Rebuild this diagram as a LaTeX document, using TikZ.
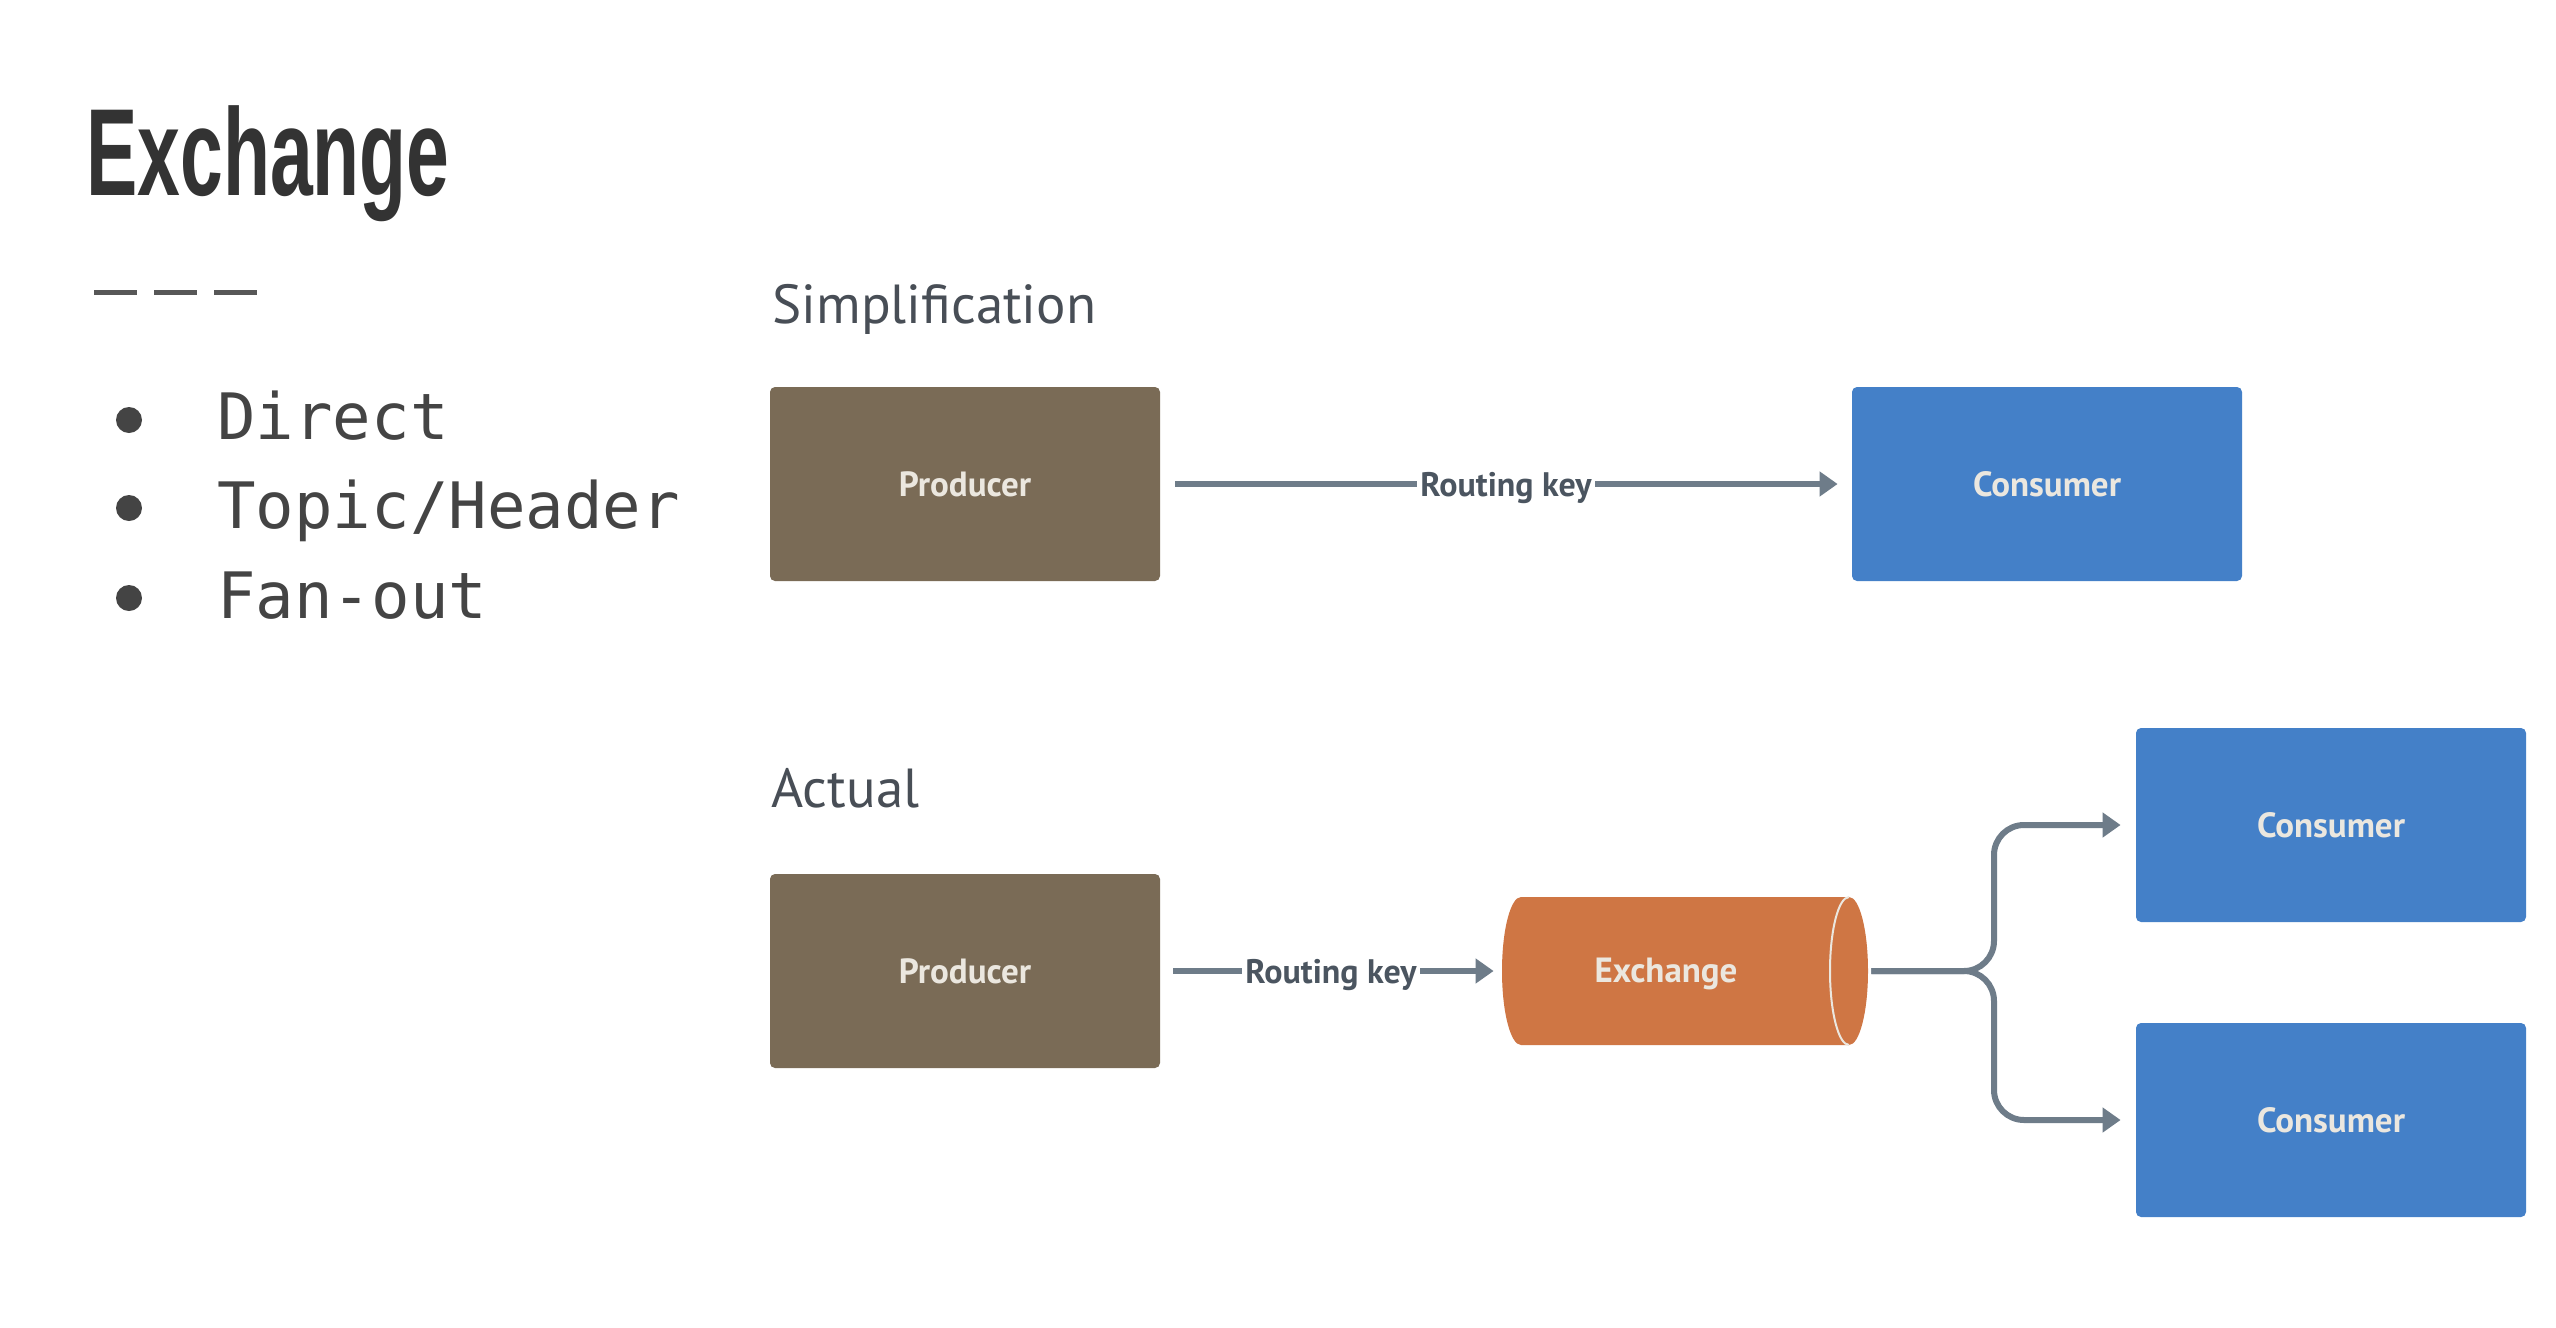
\documentclass[tikz,border=0pt]{standalone}
\usepackage{graphicx}
\usepackage{fontspec}
\setmainfont{PT Sans}
\newfontfamily\titlefont{Liberation Sans}
\newfontfamily\codefont{DejaVu Sans Mono}
\usetikzlibrary{arrows.meta}
\definecolor{producerc}{RGB}{122,107,86}
\definecolor{consumerc}{RGB}{68,128,200}
\definecolor{exchangec}{RGB}{207,118,68}
\definecolor{linec}{RGB}{110,124,137}
\definecolor{labelc}{RGB}{235,231,223}
\definecolor{keyc}{RGB}{75,85,96}
\definecolor{headc}{RGB}{72,78,86}
\definecolor{titlec}{RGB}{51,51,51}
\definecolor{bulletc}{RGB}{68,68,68}
\tikzset{
  box/.style={rectangle, rounded corners=2.5pt, minimum width=195pt, minimum height=97pt,
    inner sep=0pt, text=labelc, font=\bfseries\fontsize{17.5}{20}\selectfont},
  prodbox/.style={box, fill=producerc},
  consbox/.style={box, fill=consumerc},
  flow/.style={draw=linec, line width=3pt, -{Triangle[length=9pt,width=12pt]}},
  keylabel/.style={fill=white, inner sep=1.5pt, yshift=-2pt, text=keyc, font=\bfseries\fontsize{17}{19}\selectfont},
  heading/.style={anchor=base west, inner sep=0pt, text=headc, font=\fontsize{27.5}{30}\selectfont},
  item/.style={anchor=base west, inner sep=0pt, text=bulletc, font=\codefont\fontsize{32}{36}\selectfont},
}
\begin{document}
\begin{tikzpicture}[x=0.5pt,y=-0.5pt]
\useasboundingbox[fill=white] (0,0) rectangle (2556,1328);

% title
\node[anchor=base west, inner sep=0pt, text=titlec, font=\titlefont\bfseries\fontsize{62}{70}\selectfont] (title) at (86,195) {\scalebox{0.62}[1]{Exchange}};
% separator dashes
\foreach \xa/\xb [count=\i] in {94/137,154/197,214/257}{
  \coordinate (d\i a) at (\xa,292);
  \coordinate (d\i b) at (\xb,292);
  \draw[line width=2.5pt, draw=bulletc!90] (d\i a) -- (d\i b);
}
% bullets
\foreach \yb/\yt/\txt [count=\i] in {420/439/Direct,508/528/Topic\slash Header,598/618/Fan-out}{
  \fill[bulletc] (129,\yb) circle (6.5pt);
  \node[item] (item\i) at (217,\yt) {\txt};
}

% headings
\node[heading] (h1) at (772,323) {Simplification};
\node[heading] (h2) at (771,807) {Actual};

% simplification row
\node[prodbox] (p1) at (965,484) {\raisebox{-1pt}{Producer}};
\node[consbox] (c1) at (2047,484) {\raisebox{-1pt}{Consumer}};
\draw[flow, shorten <=7.5pt, shorten >=7pt] (p1.east) -- node[keylabel] {Routing key} (c1.west);

% actual row
\node[prodbox] (p2) at (965,971) {\raisebox{-1pt}{Producer}};
\node[consbox] (c2) at (2331,825) {\raisebox{-1pt}{Consumer}};
\node[consbox] (c3) at (2331,1120) {\raisebox{-1pt}{Consumer}};

% exchange cylinder
\node[rectangle, minimum width=184.5pt, minimum height=74pt, inner sep=0pt] (ex) at (1686.5,971) {};
\fill[exchangec] (1521,897) -- (1849,897) arc[start angle=90, end angle=-90, x radius=9.5pt, y radius=37pt]
  -- (1521,1045) arc[start angle=270, end angle=90, x radius=9.5pt, y radius=37pt] -- cycle;
\draw[labelc, line width=1pt] (1849,897) arc[start angle=90, end angle=270, x radius=9.5pt, y radius=37pt];
\node[text=labelc, font=\bfseries\fontsize{17.5}{20}\selectfont, inner sep=0pt, yshift=-1.5pt] (exlabel) at (1666,971) {Exchange};

\draw[flow, shorten <=6.5pt, shorten >=4pt] (p2.east) -- node[keylabel] {Routing key} (ex.west);

\coordinate (split) at (1994,971);
\draw[flow, rounded corners=15pt, shorten >=7.5pt] (ex.east) -- (split) |- (c2.west);
\draw[flow, rounded corners=15pt, shorten >=7.5pt] (ex.east) -- (split) |- (c3.west);
\end{tikzpicture}
\end{document}
